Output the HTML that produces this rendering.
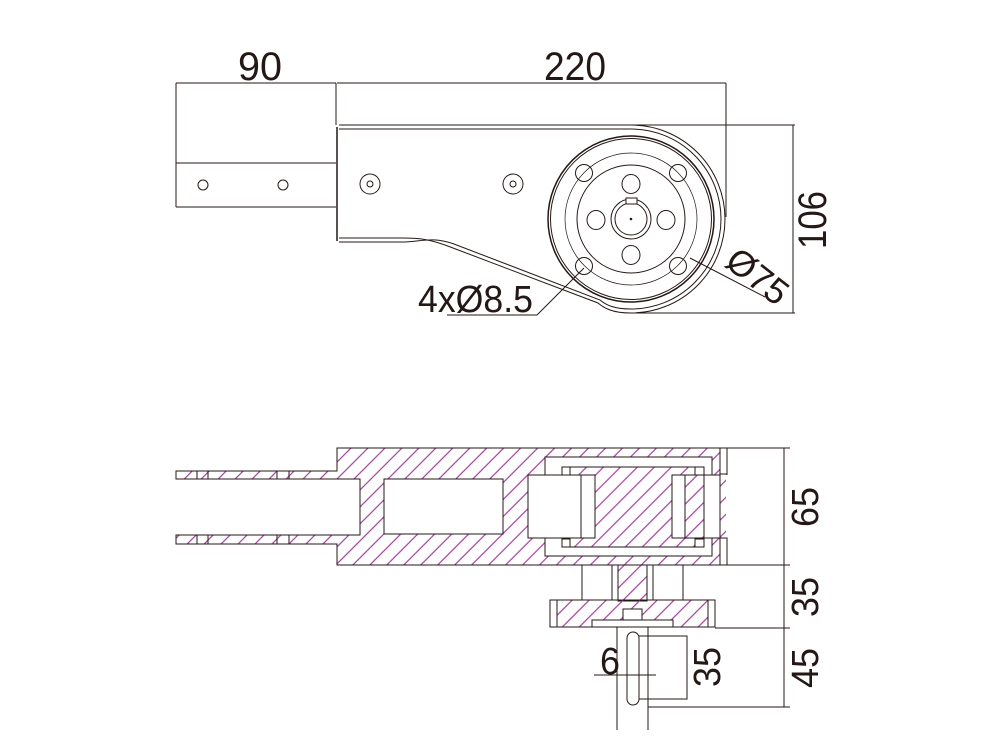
<!DOCTYPE html>
<html><head><meta charset="utf-8"><style>
html,body{margin:0;padding:0;background:#fff;}
svg{display:block;}
text{font-family:"Liberation Sans Narrow","Liberation Sans",sans-serif;fill:#231815;}
</style></head><body>
<svg width="1000" height="750" viewBox="0 0 1000 750" xmlns="http://www.w3.org/2000/svg">
<defs>
<pattern id="h" width="12" height="12" patternUnits="userSpaceOnUse" patternTransform="rotate(45)">
<line x1="1" y1="0" x2="1" y2="12" stroke="#a0409a" stroke-width="1.2"/>
</pattern>
</defs>
<g stroke="#231815" fill="none" stroke-width="1">
<line x1="176" y1="83" x2="336" y2="83"/>
<line x1="337" y1="83" x2="726" y2="83"/>
<line x1="176" y1="83" x2="176" y2="207"/>
<line x1="336" y1="83" x2="336" y2="125"/>
<line x1="726" y1="83" x2="726" y2="217"/>
<line x1="176" y1="163" x2="336" y2="163"/>
<line x1="176" y1="207" x2="336" y2="207"/>
<circle cx="203" cy="185" r="5"/>
<circle cx="283" cy="185" r="5"/>
<path d="M337,127 L337,241" stroke-width="1.5"/>
<path d="M339,125 L631,125 A94,94 0 0 1 725,219 A94,94 0 0 1 631,313 C612,313 604,308 598,303 L453,248 C430,239 420,238 402,238 L339,238"/>
<path d="M339,129 L631,129 A90,90 0 0 1 721,219 A90,90 0 0 1 631,309 C614,309 606,305 600,300 L454,244 C431,236 421,242 402,242 L339,242"/>
<circle cx="370" cy="184" r="10"/><circle cx="370" cy="184" r="3"/>
<circle cx="513" cy="184" r="10"/><circle cx="513" cy="184" r="3"/>
<circle cx="631" cy="219" r="83" stroke-width="1.5"/>
<circle cx="631" cy="219" r="80.5"/>
<circle cx="631" cy="219" r="66" stroke-width="0.7"/>
<circle cx="631" cy="219" r="54"/>
<circle cx="584" cy="173" r="8.5"/><circle cx="678" cy="173" r="8.5"/>
<circle cx="584" cy="266" r="8.5"/><circle cx="678" cy="266" r="8.5"/>
<ellipse cx="631" cy="184" rx="9" ry="9.5"/><ellipse cx="631" cy="255" rx="9" ry="9.5"/>
<ellipse cx="596" cy="220" rx="9" ry="9.5"/><ellipse cx="666" cy="220" rx="9" ry="9.5"/>
<circle cx="631" cy="219" r="20"/><circle cx="631" cy="219" r="16"/>
<rect x="626" y="198" width="11" height="6" fill="#fff"/>
<circle cx="631" cy="219" r="0.8" fill="#231815"/>
<line x1="631" y1="125" x2="795" y2="125"/>
<line x1="631" y1="313" x2="795" y2="313"/>
<line x1="793" y1="125" x2="793" y2="313"/>
<line x1="690" y1="258" x2="765" y2="297"/>
<polyline points="584,268 537,315 447,315"/>
</g>
<text x="260" y="80" font-size="40" text-anchor="middle" textLength="44" lengthAdjust="spacingAndGlyphs">90</text>
<text x="575" y="80" font-size="40" text-anchor="middle" textLength="62" lengthAdjust="spacingAndGlyphs">220</text>
<text x="418" y="312" font-size="38" textLength="115" lengthAdjust="spacingAndGlyphs">4xØ8.5</text>
<text transform="translate(826,220) rotate(-90)" font-size="40" text-anchor="middle" textLength="58" lengthAdjust="spacingAndGlyphs">106</text>
<text transform="translate(750,286) rotate(38)" font-size="36" text-anchor="middle">Ø75</text>

<g stroke="#231815" stroke-width="1">
<path d="M337,448 L727,448 L727,565 L337,565 L337,544 L176,544 L176,535 L360,535 L360,479 L176,479 L176,471 L337,471 Z" fill="url(#h)"/>
<rect x="384" y="479" width="119" height="55" fill="#fff"/>
<path d="M528,475 L545,475 L545,457 L712,457 L712,475 L720,475 L720,538 L712,538 L712,556 L545,556 L545,538 L528,538 Z" fill="#fff"/>
<line x1="727" y1="475" x2="727" y2="538" stroke="#fff" stroke-width="2"/>
<rect x="720" y="448" width="7" height="26" fill="#fff"/>
<rect x="720" y="538" width="7" height="27" fill="#fff"/>
<rect x="562" y="467" width="142" height="80" fill="url(#h)"/>
<rect x="562" y="467" width="8" height="8" fill="#fff"/>
<rect x="695" y="467" width="9" height="8" fill="#fff"/>
<rect x="562" y="539" width="8" height="8" fill="#fff"/>
<rect x="695" y="539" width="9" height="8" fill="#fff"/>
<rect x="528" y="475" width="67" height="63" fill="#fff"/>
<line x1="581" y1="475" x2="581" y2="538"/>
<rect x="672" y="475" width="13" height="63" fill="#fff"/>
<line x1="685" y1="475" x2="720" y2="475"/><line x1="685" y1="538" x2="720" y2="538"/>
<line x1="197" y1="471" x2="197" y2="479"/><line x1="208" y1="471" x2="208" y2="479"/>
<line x1="277" y1="471" x2="277" y2="479"/><line x1="289" y1="471" x2="289" y2="479"/>
<line x1="197" y1="535" x2="197" y2="544"/><line x1="208" y1="535" x2="208" y2="544"/>
<line x1="277" y1="535" x2="277" y2="544"/><line x1="289" y1="535" x2="289" y2="544"/>
<rect x="582" y="565" width="101" height="35" fill="#fff"/>
<line x1="612" y1="565" x2="612" y2="600"/><line x1="653" y1="565" x2="653" y2="600"/>
<rect x="618" y="565" width="29" height="36" fill="url(#h)"/>
<rect x="550" y="600" width="165" height="27" fill="url(#h)"/>
<rect x="550" y="600" width="7" height="27" fill="#fff"/>
<rect x="708" y="600" width="7" height="27" fill="#fff"/>
<rect x="592" y="620" width="81" height="7" fill="#fff"/>
<rect x="623" y="609" width="19" height="11" fill="#fff"/>
<line x1="617" y1="627" x2="617" y2="730"/><line x1="648" y1="627" x2="648" y2="730"/>
<rect x="627" y="632" width="12" height="73" rx="6" fill="none"/>
</g>
<g stroke="#231815" stroke-width="1" fill="none">
<line x1="727" y1="448" x2="790" y2="448"/>
<line x1="717" y1="565" x2="790" y2="565"/>
<line x1="715" y1="628" x2="790" y2="628"/>
<line x1="648" y1="707" x2="790" y2="707"/>
<line x1="784" y1="448" x2="784" y2="707"/>
<line x1="594" y1="675" x2="656" y2="675"/>
<polyline points="639,636 687,636 687,699 639,699"/>
</g>
<text x="600" y="674" font-size="38" textLength="20" lengthAdjust="spacingAndGlyphs">6</text>
<text transform="translate(720,667) rotate(-90)" font-size="38" text-anchor="middle" textLength="40" lengthAdjust="spacingAndGlyphs">35</text>
<text transform="translate(818,507) rotate(-90)" font-size="38" text-anchor="middle" textLength="40" lengthAdjust="spacingAndGlyphs">65</text>
<text transform="translate(818,597) rotate(-90)" font-size="38" text-anchor="middle" textLength="40" lengthAdjust="spacingAndGlyphs">35</text>
<text transform="translate(818,668) rotate(-90)" font-size="38" text-anchor="middle" textLength="40" lengthAdjust="spacingAndGlyphs">45</text>
</svg>
</body></html>
